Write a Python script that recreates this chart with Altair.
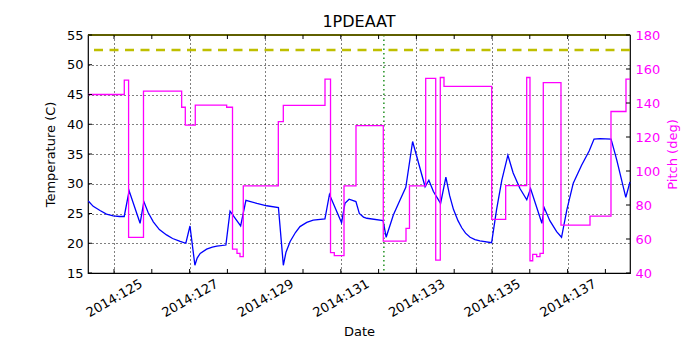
import altair as alt
import pandas as pd

# ---------------- data ----------------
temp_days = [124.32, 124.45, 124.63, 124.80, 124.98, 125.15, 125.27, 125.40, 125.69, 125.79,
             125.90, 126.04, 126.20, 126.39, 126.55, 126.75, 126.90, 127.01, 127.14, 127.20,
             127.28, 127.45, 127.60, 127.72, 127.96, 128.07, 128.35, 128.49, 128.78, 129.04,
             129.35, 129.48, 129.55, 129.66, 129.80, 129.92, 130.10, 130.27, 130.58, 130.70,
             131.02, 131.11, 131.22, 131.40, 131.49, 131.60, 131.69, 132.12, 132.20, 132.39,
             132.57, 132.72, 132.90, 133.23, 133.33, 133.45, 133.64, 133.78, 133.88, 133.98,
             134.10, 134.20, 134.30, 134.42, 134.55, 134.68, 134.99, 135.12, 135.26, 135.42,
             135.56, 135.74, 135.92, 136.02, 136.32, 136.38, 136.53, 136.71, 136.84, 136.98,
             137.15, 137.37, 137.57, 137.70, 137.86, 138.15, 138.30, 138.54, 138.65]
temp_vals = [27.1, 26.2, 25.5, 24.9, 24.6, 24.5, 24.5, 28.8, 23.35, 27.0,
             25.2, 23.6, 22.3, 21.4, 20.8, 20.3, 20.0, 22.9, 16.3, 17.5,
             18.3, 19.0, 19.35, 19.5, 19.7, 25.4, 22.9, 27.2, 26.7, 26.3,
             26.0, 16.3, 18.5, 20.3, 21.8, 22.8, 23.5, 23.9, 24.1, 28.2,
             23.45, 26.7, 27.4, 27.0, 25.0, 24.4, 24.2, 23.8, 21.0, 24.75,
             27.3, 29.4, 37.1, 29.5, 30.6, 28.7, 26.7, 31.1, 28.0, 25.7,
             23.8, 22.6, 21.7, 21.0, 20.6, 20.4, 20.1, 25.6, 30.6, 34.8,
             31.8, 29.2, 27.3, 29.2, 23.35, 26.0, 23.8, 21.95, 21.0, 25.6,
             30.1, 33.1, 35.5, 37.5, 37.6, 37.5, 34.0, 27.7, 30.3]

pitch_days = [124.312, 125.272, 125.386, 125.78, 126.79, 126.886, 127.15, 127.98, 128.135, 128.254,
              128.333, 128.42, 129.347, 129.479, 130.582, 130.728, 130.828, 131.085, 131.402, 132.124,
              132.725, 132.817, 133.246, 133.511, 133.632, 133.73, 134.992, 135.362, 135.918, 136.005,
              136.077, 136.183, 136.27, 136.357, 136.825, 137.593, 138.148, 138.545, 138.651]
pitch_vals = [145, 153.5, 61, 147, 137.5, 127, 138.8, 137.5, 54, 51.5,
              49.6, 91.2, 129, 138.6, 154, 52, 50.2, 91.2, 126.7, 58.8,
              66.3, 91.2, 154.5, 47.6, 155, 149.8, 71.6, 91.4, 155, 47.2,
              51, 49.6, 51.6, 152, 68.2, 73.5, 135, 154, 154]

x_label_days = [125, 127, 129, 131, 133, 135, 137]
x_tick_days = [125, 126, 127, 128, 129, 130, 131, 132, 133, 134, 135, 136, 137, 138]
temp_ticks = [15, 20, 25, 30, 35, 40, 45, 50, 55]
pitch_ticks = [40, 60, 80, 100, 120, 140, 160, 180]
caution_limit = [52.5]
planning_limit = [55]
now_day = [132.14]

x_domain = [124.312, 138.651]
t_domain = [15, 55]
p_domain = [40, 180]

FONT = "DejaVu Sans"
MAGENTA = "#ff00ff"
BLUE = "#0000ff"
YELLOW = "#bfbf00"

# ---------------- frames ----------------
temp_df = pd.DataFrame({"day": temp_days, "temp": temp_vals})
pitch_df = pd.DataFrame({"day": pitch_days, "pitch": pitch_vals})
xtick_df = pd.DataFrame({"day": x_tick_days})
ttick_df = pd.DataFrame({"temp": temp_ticks})
ptick_df = pd.DataFrame({"pitch": pitch_ticks})
caution_df = pd.DataFrame({"temp": caution_limit})
planning_df = pd.DataFrame({"temp": planning_limit})
now_df = pd.DataFrame({"day": now_day})

xscale = alt.Scale(domain=x_domain, nice=False, zero=False)
tscale = alt.Scale(domain=t_domain, nice=False, zero=False)
pscale = alt.Scale(domain=p_domain, nice=False, zero=False)

x_axis = alt.Axis(values=x_label_days, labelExpr="'2014:' + datum.value", orient="bottom",
                  labelAngle=-30, labelAlign="center", labelBaseline="middle",
                  labelPadding=25, tickSize=0, domain=False,
                  grid=True, gridDash=[1, 3], gridColor="black", gridOpacity=1, gridWidth=1,
                  title="Date", titleY=58, titleBaseline="middle")
left_axis = alt.Axis(values=temp_ticks, orient="left", tickSize=0, domain=False, labelPadding=5,
                     grid=True, gridDash=[1, 3], gridColor="black", gridOpacity=1, gridWidth=1,
                     title="Temperature (C)", titleX=-38, titleY=119, titleAngle=270,
                     titleAlign="center", titleBaseline="middle")
right_axis = alt.Axis(values=pitch_ticks, orient="right", tickSize=0, domain=False, labelPadding=5,
                      grid=False, labelColor=MAGENTA, titleColor=MAGENTA,
                      title="Pitch (deg)", titleX=42, titleY=119, titleAngle=270,
                      titleAlign="center", titleBaseline="middle")


def X(ax=None):
    return alt.X("day:Q", scale=xscale, axis=ax)


temp_line = alt.Chart(temp_df).mark_line(color=BLUE, strokeWidth=1.3).encode(
    x=X(x_axis), y=alt.Y("temp:Q", scale=tscale, axis=left_axis))
caution = alt.Chart(caution_df).mark_rule(color=YELLOW, strokeWidth=2.5, strokeDash=[9, 6.5]).encode(
    y=alt.Y("temp:Q", scale=tscale, axis=None))
planning = alt.Chart(planning_df).mark_rule(color=YELLOW, strokeWidth=2.2).encode(
    y=alt.Y("temp:Q", scale=tscale, axis=None))
top_spine = alt.Chart(planning_df).mark_rule(color="black", strokeWidth=1).encode(
    y=alt.Y("temp:Q", scale=tscale, axis=None))
now_line = alt.Chart(now_df).mark_rule(color="#008000", strokeWidth=1.3, strokeDash=[1.5, 3]).encode(
    x=X())
bottom_ticks = alt.Chart(xtick_df).mark_rule(color="black").encode(
    x=X(), y=alt.value(238), y2=alt.value(234))
top_ticks = alt.Chart(xtick_df).mark_rule(color="black").encode(
    x=X(), y=alt.value(0), y2=alt.value(4))
left_ticks = alt.Chart(ttick_df).mark_rule(color="black").encode(
    y=alt.Y("temp:Q", scale=tscale, axis=None), x=alt.value(0), x2=alt.value(4))
pitch_line = alt.Chart(pitch_df).mark_line(color=MAGENTA, strokeWidth=1.3, interpolate="step-after").encode(
    x=X(), y=alt.Y("pitch:Q", scale=pscale, axis=right_axis))
right_ticks = alt.Chart(ptick_df).mark_rule(color="black").encode(
    y=alt.Y("pitch:Q", scale=pscale, axis=None), x=alt.value(538), x2=alt.value(542))

chart = alt.layer(
    temp_line, now_line, caution, planning, pitch_line, top_spine,
    bottom_ticks, top_ticks, left_ticks, right_ticks
).resolve_scale(x="independent", y="independent").properties(
    width=542, height=238,
    autosize=alt.AutoSizeParams(type="none"),
    padding={"left": 80, "top": 27, "right": 55, "bottom": 72},
    background="white",
    title=alt.TitleParams("1PDEAAT", font=FONT, fontSize=16, fontWeight="normal",
                          anchor="middle", frame="group", offset=6, dy=7, color="black"),
).configure_view(stroke="black", strokeWidth=1.2).configure_axis(
    labelFont=FONT, labelFontSize=13, titleFont=FONT, titleFontSize=13,
    titleFontWeight="normal", labelColor="black", titleColor="black")

chart.save("out.html", embed_options={"renderer": "svg", "actions": False})
